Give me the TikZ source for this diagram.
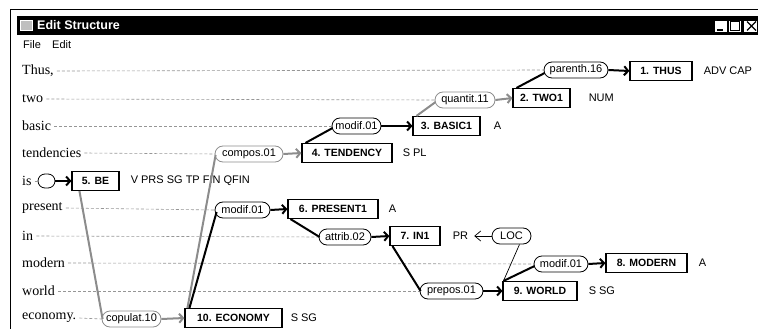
\documentclass[tikz,border=0pt]{standalone}
\usepackage{fontspec}
\setmainfont{Liberation Serif}
\setsansfont{Liberation Sans}
\usetikzlibrary{shapes.misc,arrows.meta}
\definecolor{grayc}{RGB}{140,140,140}
\definecolor{dashc}{RGB}{150,150,150}
\tikzset{
  wordlab/.style={anchor=west,inner sep=0pt,font=\fontsize{14}{16}\selectfont},
  rel/.style={draw,rounded rectangle,minimum height=16pt,inner xsep=2pt,inner ysep=1pt,line width=0.8pt,font=\sffamily\fontsize{11}{12}\selectfont},
  grel/.style={rel,draw=grayc},
  tok/.style={draw,line width=1.1pt,minimum height=19pt,inner xsep=2pt,inner ysep=1pt,font=\sffamily\bfseries\fontsize{10.5}{12}\selectfont},
  feat/.style={anchor=west,inner sep=0pt,font=\sffamily\fontsize{11}{12}\selectfont},
  dline/.style={dashc,line width=0.6pt,dash pattern=on 3pt off 2pt},
  arrb/.style={line width=2pt,-{Straight Barb[length=4pt,width=9pt]}},
  arrg/.style={arrb,grayc},
  depb/.style={line width=2pt,black},
  depg/.style={line width=2pt,grayc},
}
\begin{document}
\begin{tikzpicture}[x=1pt,y=-1pt]
\useasboundingbox (0,0) rectangle (758,329);
% window frame
\draw[line width=1pt] (10,329) -- (10,10) -- (758,10);
\fill[black] (17,16) rectangle (758,35);
\node[draw=white,fill=gray!50,minimum width=12pt,minimum height=10pt,inner sep=0pt] (icon) at (26.5,25.5) {};
\node[anchor=west,text=white,inner sep=0pt,font=\sffamily\bfseries\fontsize{12.5}{14}\selectfont] (title) at (37,25.5) {Edit Structure};
\node[draw=black,fill=white,minimum width=13pt,minimum height=12pt,inner sep=0pt,line width=0.6pt] (bmin) at (720.5,26) {};
\node[draw=black,fill=white,minimum width=13pt,minimum height=12pt,inner sep=0pt,line width=0.6pt] (bmax) at (735,26) {};
\node[draw=black,fill=white,minimum width=14pt,minimum height=12pt,inner sep=0pt,line width=0.6pt,anchor=west] (bcls) at (743,26) {};
\draw[line width=1.2pt] (717,30) -- (723,30);
\draw[line width=0.8pt] (730.5,21.5) rectangle (739.5,30.5);
\draw[line width=1.3pt] (747,21.5) -- (756,30.5) (747,30.5) -- (756,21.5);
\node[anchor=west,inner sep=0pt,font=\sffamily\fontsize{11}{12}\selectfont] (mfile) at (23,45) {File};
\node[anchor=west,inner sep=0pt,font=\sffamily\fontsize{11}{12}\selectfont] (medit) at (52,45) {Edit};
% words
\node[wordlab] (w0) at (22,71) {Thus,};
\node[wordlab] (w1) at (22,99) {two};
\node[wordlab] (w2) at (22,126) {basic};
\node[wordlab] (w3) at (22,153) {tendencies};
\node[wordlab] (w4) at (22,181) {is};
\node[wordlab] (w5) at (22,208) {present};
\node[wordlab] (w6) at (22,236) {in};
\node[wordlab] (w7) at (22,263) {modern};
\node[wordlab] (w8) at (22,291) {world};
\node[wordlab] (w9) at (22,318) {economy.};
% relation labels
\node[rel,minimum width=68pt] (e1) at (576,70) {parenth.16};
\node[grel,minimum width=64pt] (e2) at (465,100) {quantit.11};
\node[rel,minimum width=53pt] (e3) at (356.5,126) {modif.01};
\node[grel,minimum width=72pt] (e4) at (249,154) {compos.01};
\node[rel,minimum width=17pt,minimum height=14pt,inner sep=0pt] (e5) at (46.5,181) {};
\node[rel,minimum width=59pt] (e6) at (242.5,210) {modif.01};
\node[rel,minimum width=56pt] (e7) at (345,237) {attrib.02};
\node[rel,minimum width=43pt] (loc) at (511.5,236) {LOC};
\node[rel,minimum width=58pt] (e8) at (561,264) {modif.01};
\node[rel,minimum width=67pt] (e9) at (451.5,291) {prepos.01};
\node[grel,minimum width=63pt] (e10) at (131.5,319) {copulat.10};
% dashed guide lines
\draw[dline] ([xshift=3pt]w0.east) -- (e1.west);
\draw[dline] ([xshift=3pt]w1.east) -- (e2.west);
\draw[dline] ([xshift=3pt]w2.east) -- (e3.west);
\draw[dline] ([xshift=3pt]w3.east) -- (e4.west);
\draw[dline] ([xshift=3pt]w4.east) -- (e5.west);
\draw[dline] ([xshift=3pt]w5.east) -- (e6.west);
\draw[dline] ([xshift=3pt]w6.east) -- (e7.west);
\draw[dline] ([xshift=3pt]w7.east) -- (e8.west);
\draw[dline] ([xshift=3pt]w8.east) -- (e9.west);
\draw[dline] ([xshift=3pt]w9.east) -- (e10.west);
% token boxes
\node[tok,minimum width=62pt] (b1) at (661,71) {1. THUS};
\node[tok,minimum width=57pt] (b2) at (541.5,98) {2. TWO1};
\node[tok,minimum width=67pt] (b3) at (446.5,126) {3. BASIC1};
\node[tok,minimum width=90pt] (b4) at (347,153) {4. TENDENCY};
\node[tok,minimum width=47pt] (b5) at (95.5,181) {5. BE};
\node[tok,minimum width=90pt] (b6) at (333,209) {6. PRESENT1};
\node[tok,minimum width=50pt] (b7) at (415,236) {7. IN1};
\node[tok,minimum width=81pt] (b8) at (646.5,263) {8. MODERN};
\node[tok,minimum width=74pt] (b9) at (540,291) {9. WORLD};
\node[tok,minimum width=97pt] (b10) at (233.5,318) {10. ECONOMY};
% features
\node[feat] (f1) at ([xshift=11pt]b1.east) {ADV CAP};
\node[feat] (f2) at ([xshift=18pt]b2.east) {NUM};
\node[feat] (f3) at ([xshift=13pt]b3.east) {A};
\node[feat] (f4) at ([xshift=10pt]b4.east) {S PL};
\node[feat] (f5) at ([xshift=11pt]b5.east) {V PRS SG TP FIN QFIN};
\node[feat] (f6) at ([xshift=10pt]b6.east) {A};
\node[feat] (f7) at ([xshift=12pt]b7.east) {PR};
\node[feat] (f8) at ([xshift=11pt]b8.east) {A};
\node[feat] (f9) at ([xshift=11pt]b9.east) {S SG};
\node[feat] (f10) at ([xshift=8pt]b10.east) {S SG};
\coordinate (prtip) at ([xshift=6pt]f7.east);
% label -> token arrows
\draw[arrb] (e1.east) -- (b1.west);
\draw[arrg] (e2.east) -- (b2.west);
\draw[arrb] (e3.east) -- (b3.west);
\draw[arrg] (e4.east) -- (b4.west);
\draw[arrb] (e5.east) -- (b5.west);
\draw[arrb] (e6.east) -- (b6.west);
\draw[arrb] (e7.east) -- (b7.west);
\draw[arrb] (e8.east) -- (b8.west);
\draw[arrb] (e9.east) -- (b9.west);
\draw[arrg] (e10.east) -- (b10.west);
\draw[line width=0.7pt,-{Straight Barb[length=6pt,width=10pt]}] (loc.west) -- (prtip);
% dependency lines
\draw[depb] ([xshift=4pt]b2.north west) -- ([xshift=1pt,yshift=-3pt]e1.west);
\draw[depg] ([xshift=4pt]b3.north west) -- ([xshift=1pt,yshift=-2pt]e2.west);
\draw[depb] ([xshift=4pt]b4.north west) -- ([xshift=1pt,yshift=-2pt]e3.west);
\draw[depg] ([xshift=8pt]b5.south west) -- ([xshift=1pt]e10.west);
\draw[depg] ([xshift=3pt]b10.north west) -- ([xshift=1pt,yshift=-1pt]e4.west);
\draw[depb] ([xshift=5pt]b10.north west) -- ([xshift=2pt,yshift=-2pt]e6.west);
\draw[depb] ([xshift=3pt]b6.south west) -- ([xshift=1pt]e7.west);
\draw[depb] ([xshift=3pt]b7.south west) -- ([xshift=1pt]e9.west);
\draw[depb] ([xshift=1pt]b9.north west) -- ([xshift=1pt,yshift=-2pt]e8.west);
\draw[line width=0.7pt] ([xshift=1pt]b9.north west) -- ([xshift=8pt]loc.south);
\end{tikzpicture}
\end{document}
